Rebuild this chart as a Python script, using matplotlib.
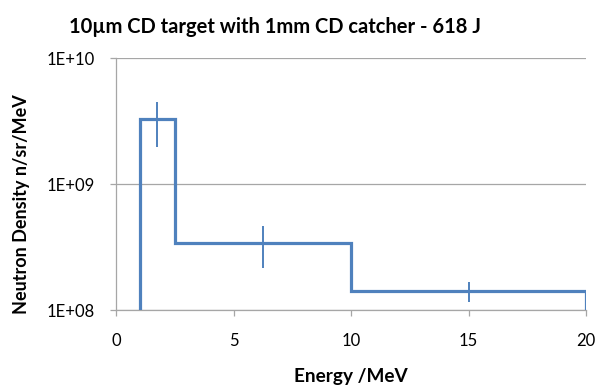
import numpy as np
import matplotlib
matplotlib.use('Agg')
import matplotlib.pyplot as plt
from matplotlib.ticker import FixedLocator, FixedFormatter

plt.rcParams['font.family'] = ['Lato', 'DejaVu Sans']

# bin edges (MeV) and neutron density per bin
binEdges = [1.0, 2.5, 10.0, 20.0]
binDensity = [3.26e9, 3.42e8, 1.42e8]
floorValue = 1e8

# error bars: position, low, high
errX = [1.76, 6.26, 15.0]
errLow = [1.97e9, 2.17e8, 1.15e8]
errHigh = [4.5e9, 4.64e8, 1.68e8]

yTicks = [1e8, 1e9, 1e10]
yTickLabels = ['1E+08', '1E+09', '1E+10']
xTicks = [0, 5, 10, 15, 20]

lineColor = '#4F81BD'
gridColor = '#A6A6A6'

fig = plt.figure(figsize=(5.98, 3.88), dpi=100)
ax = fig.add_axes([0.194, 0.201, 0.786, 0.6495])

# build the step outline from the bins
stepX = [binEdges[0]]
stepY = [floorValue]
for i in range(len(binDensity)):
    stepX += [binEdges[i], binEdges[i+1]]
    stepY += [binDensity[i], binDensity[i]]
stepX.append(binEdges[-1])
stepY.append(floorValue)

ax.plot(stepX, stepY, color=lineColor, lw=2.3, solid_joinstyle='miter', zorder=3)
ax.vlines(errX, errLow, errHigh, color=lineColor, lw=1.4, zorder=3)

ax.set_yscale('log')
ax.set_xlim(0, 20)
ax.set_ylim(1e8, 1e10)
ax.yaxis.set_major_locator(FixedLocator(yTicks))
ax.yaxis.set_major_formatter(FixedFormatter(yTickLabels))
ax.yaxis.set_minor_locator(FixedLocator([]))
ax.set_xticks(xTicks)

for y in yTicks:
    ax.axhline(y, color=gridColor, lw=0.9, zorder=1)

for s in ['top', 'right']:
    ax.spines[s].set_visible(False)
ax.spines['left'].set_color(gridColor)
ax.spines['bottom'].set_color(gridColor)
ax.spines['left'].set_linewidth(0.9)
ax.spines['bottom'].set_linewidth(0.9)
ax.tick_params(axis='both', colors=gridColor, labelcolor='#000000', labelsize=12,
               direction='out', length=4.3, width=0.9)
ax.tick_params(axis='y', pad=11)
ax.tick_params(axis='x', pad=12)

ax.set_xlabel('Energy /MeV', fontsize=13.7, fontweight='bold', labelpad=14)
ax.set_ylabel('Neutron Density n/sr/MeV', fontsize=13.0, fontweight='bold')
ax.yaxis.set_label_coords(-0.183, 0.42)
fig.text(0.46, 0.955, '10\u00b5m CD target with 1mm CD catcher - 618 J',
         fontsize=14.5, fontweight='bold', ha='center', va='top')

fig.savefig('out.png', dpi=100)
